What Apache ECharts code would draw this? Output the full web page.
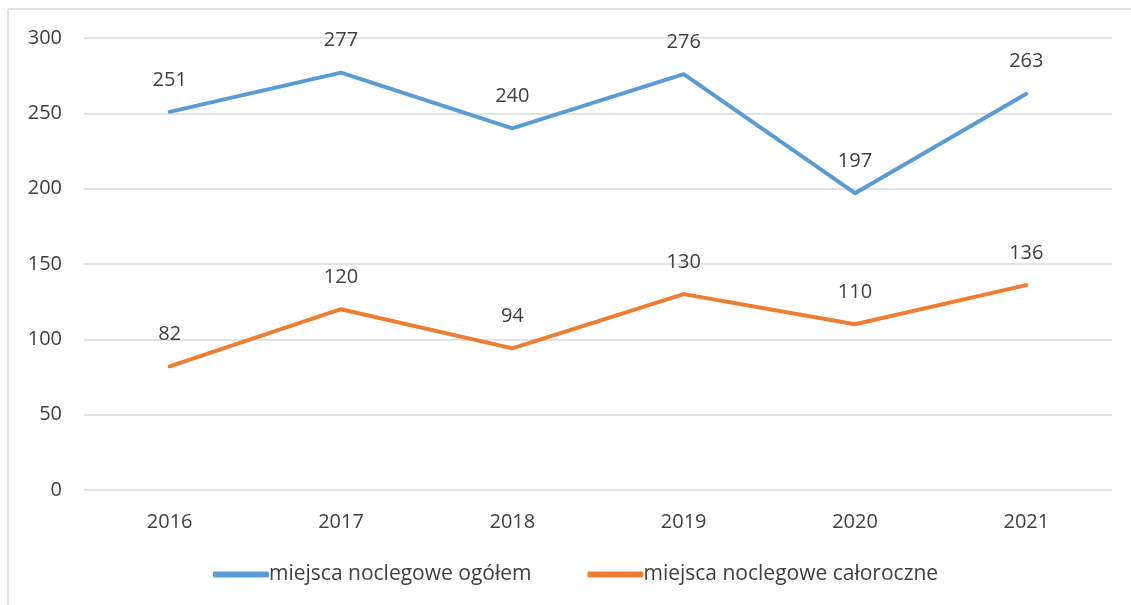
<!DOCTYPE html>
<html>
<head>
<meta charset="utf-8">
<script src="https://cdn.jsdelivr.net/npm/echarts@6/dist/echarts.min.js"></script>
<style>
  html, body { margin: 0; padding: 0; background: #fff; }
  #main { width: 1131px; height: 605px; }
</style>
</head>
<body>
<div id="main"></div>
<script>
// dane wykresu
var years = ['2016', '2017', '2018', '2019', '2020', '2021'];
var ogolem = [251, 277, 240, 276, 197, 263];
var caloroczne = [82, 120, 94, 130, 110, 136];
var seriesNames = ['miejsca noclegowe ogółem', 'miejsca noclegowe całoroczne'];

var FONT = "'Open Sans', sans-serif";
var TXT = '#404040';
var FS = 20;

var myChart = echarts.init(document.getElementById('main'));

function lineSeries(name, data, color) {
	return {
		name: name,
		type: 'line',
		data: data,
		symbol: 'circle',
		symbolSize: 0,
		lineStyle: { width: 4, color: color, cap: 'round', join: 'round' },
		itemStyle: { color: color },
		label: {
			show: true,
			position: 'top',
			distance: 22,
			color: TXT,
			fontSize: FS,
			fontFamily: FONT
		},
		emphasis: { disabled: true },
		animation: false
	};
}

var option = {
	backgroundColor: '#fff',
	graphic: [
		// ramka wykresu (górna i lewa krawędź)
		{ type: 'line', shape: { x1: 8, y1: 9, x2: 1131, y2: 9 }, style: { stroke: '#d9d9d9', lineWidth: 1.5 } },
		{ type: 'line', shape: { x1: 8, y1: 9, x2: 8, y2: 605 }, style: { stroke: '#d9d9d9', lineWidth: 1.5 } }
	],
	grid: { left: 84, right: 19, top: 38, bottom: 115 },
	legend: {
		bottom: 15,
		left: 208,
		itemWidth: 56,
		itemHeight: 6,
		itemGap: 56,
		icon: 'roundRect',
		textStyle: { color: TXT, fontSize: 21, fontFamily: FONT, padding: [0, 0, 0, -5] },
		data: seriesNames
	},
	xAxis: {
		type: 'category',
		data: years,
		boundaryGap: true,
		axisLine: { show: false },
		axisTick: { show: false },
		axisLabel: { color: TXT, fontSize: FS, fontFamily: FONT, margin: 22 }
	},
	yAxis: {
		type: 'value',
		min: 0,
		max: 300,
		interval: 50,
		axisLine: { show: false },
		axisTick: { show: false },
		splitLine: { lineStyle: { color: '#d9d9d9', width: 1.5 } },
		axisLabel: { color: TXT, fontSize: FS, fontFamily: FONT, margin: 22 }
	},
	series: [
		lineSeries(seriesNames[0], ogolem, '#5B9BD5'),
		lineSeries(seriesNames[1], caloroczne, '#ED7D31')
	]
};

myChart.setOption(option);
</script>
</body>
</html>
